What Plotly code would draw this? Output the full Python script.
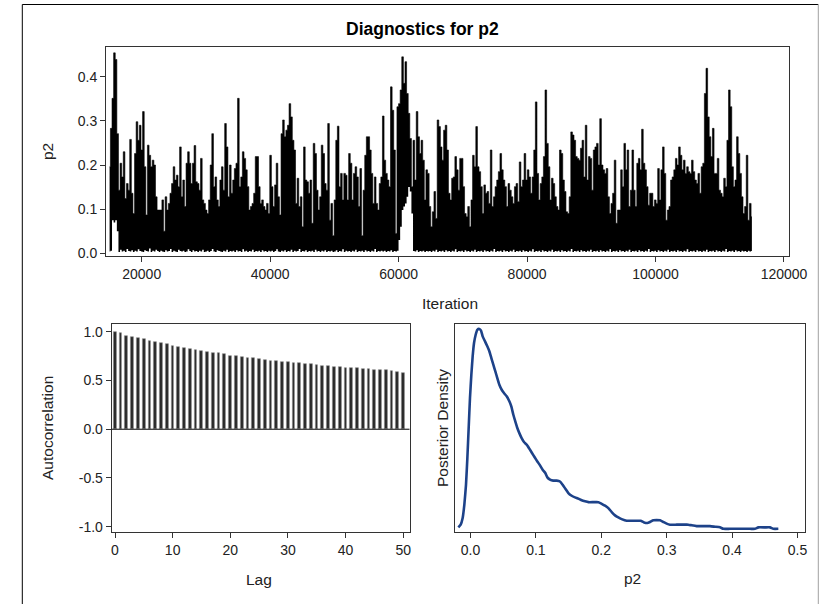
import numpy as np
import plotly.graph_objects as go

# ---------------- data ----------------
# Trace of p2 (thinned: local maxima / minima, in iteration order)
iter_start, iter_end = 15000, 115000
p2_hi = [
    0.196, 0.283, 0.351, 0.454, 0.439, 0.271, 0.143, 0.204, 0.173, 0.230,
    0.124, 0.158, 0.143, 0.258, 0.136, 0.090, 0.226, 0.298, 0.256, 0.290,
    0.234, 0.321, 0.196, 0.087, 0.245, 0.222, 0.196, 0.211, 0.200, 0.128,
    0.098, 0.098, 0.098, 0.121, 0.050, 0.128, 0.098, 0.113, 0.136, 0.158,
    0.196, 0.166, 0.177, 0.151, 0.241, 0.128, 0.166, 0.106, 0.204, 0.230,
    0.204, 0.158, 0.204, 0.244, 0.162, 0.158, 0.143, 0.215, 0.121, 0.113,
    0.098, 0.090, 0.121, 0.200, 0.271, 0.151, 0.173, 0.121, 0.106, 0.166,
    0.196, 0.143, 0.294, 0.241, 0.128, 0.200, 0.136, 0.166, 0.192, 0.204,
    0.351, 0.151, 0.173, 0.230, 0.215, 0.189, 0.151, 0.098, 0.106, 0.113,
    0.136, 0.219, 0.219, 0.151, 0.113, 0.121, 0.106, 0.098, 0.113, 0.090,
    # ~ 40000 - 65000
    0.222, 0.151, 0.106, 0.155, 0.204, 0.128, 0.087, 0.271, 0.302, 0.264,
    0.279, 0.290, 0.339, 0.309, 0.256, 0.234, 0.113, 0.170, 0.106, 0.128,
    0.060, 0.241, 0.166, 0.162, 0.136, 0.166, 0.068, 0.249, 0.226, 0.143,
    0.098, 0.128, 0.245, 0.226, 0.158, 0.143, 0.294, 0.075, 0.113, 0.040,
    0.121, 0.256, 0.288, 0.151, 0.181, 0.121, 0.181, 0.177, 0.121, 0.226,
    0.204, 0.121, 0.181, 0.196, 0.173, 0.106, 0.192, 0.040, 0.143, 0.222,
    0.264, 0.264, 0.234, 0.181, 0.113, 0.173, 0.113, 0.098, 0.158, 0.173,
    0.311, 0.211, 0.181, 0.166, 0.151, 0.377, 0.324, 0.234, 0.045, 0.332,
    0.339, 0.370, 0.445, 0.385, 0.434, 0.362, 0.317, 0.260, 0.151, 0.256,
    0.166, 0.321, 0.264, 0.226, 0.256, 0.211, 0.121, 0.189, 0.181,
    # ~ 65000 - 90000
    0.106, 0.060, 0.094, 0.140, 0.079, 0.302, 0.287, 0.241, 0.211, 0.279,
    0.290, 0.234, 0.136, 0.121, 0.170, 0.173, 0.219, 0.189, 0.143, 0.215,
    0.215, 0.151, 0.090, 0.083, 0.106, 0.060, 0.121, 0.222, 0.196, 0.287,
    0.196, 0.185, 0.151, 0.090, 0.155, 0.136, 0.140, 0.113, 0.234, 0.106,
    0.128, 0.151, 0.166, 0.185, 0.226, 0.189, 0.166, 0.151, 0.106, 0.158,
    0.143, 0.128, 0.113, 0.151, 0.158, 0.117, 0.207, 0.151, 0.166, 0.226,
    0.166, 0.189, 0.173, 0.136, 0.173, 0.234, 0.343, 0.181, 0.121, 0.158,
    0.173, 0.219, 0.370, 0.249, 0.196, 0.121, 0.170, 0.158, 0.128, 0.106,
    0.098, 0.234, 0.226, 0.166, 0.140, 0.094, 0.090, 0.128, 0.275, 0.268,
    0.256, 0.219, 0.215, 0.211, 0.238, 0.256,
    # ~ 90000 - 115000
    0.173, 0.290, 0.166, 0.219, 0.215, 0.143, 0.234, 0.241, 0.249, 0.200,
    0.305, 0.200, 0.189, 0.181, 0.192, 0.128, 0.090, 0.113, 0.136, 0.211,
    0.068, 0.098, 0.098, 0.189, 0.151, 0.249, 0.189, 0.234, 0.106, 0.143,
    0.234, 0.143, 0.106, 0.204, 0.215, 0.189, 0.281, 0.204, 0.189, 0.151,
    0.109, 0.136, 0.136, 0.106, 0.121, 0.113, 0.192, 0.121, 0.189, 0.241,
    0.181, 0.075, 0.098, 0.106, 0.166, 0.173, 0.189, 0.215, 0.200, 0.241,
    0.222, 0.189, 0.211, 0.181, 0.196, 0.185, 0.181, 0.211, 0.185, 0.166,
    0.158, 0.181, 0.136, 0.196, 0.204, 0.362, 0.419, 0.309, 0.264, 0.219,
    0.283, 0.181, 0.181, 0.215, 0.143, 0.136, 0.128, 0.170, 0.151, 0.256,
    0.370, 0.332, 0.196, 0.151, 0.166, 0.264, 0.226, 0.181, 0.128, 0.090,
    0.106, 0.222, 0.075, 0.113, 0.083,
]
p2_lo = [
    0.004, 0.006, 0.075, 0.070, 0.075, 0.050, 0.003, 0.008, 0.004, 0.006,
    0.003, 0.010, 0.005, 0.004, 0.007, 0.003, 0.006, 0.004, 0.009, 0.005,
    0.004, 0.003, 0.007, 0.005, 0.004, 0.011, 0.003, 0.006, 0.004, 0.008,
    0.005, 0.003, 0.006, 0.004, 0.003, 0.007, 0.004, 0.005, 0.010, 0.003,
    0.006, 0.004, 0.003, 0.008, 0.005, 0.004, 0.006, 0.003, 0.004, 0.009,
    0.005, 0.003, 0.007, 0.004, 0.005, 0.003, 0.006, 0.004, 0.008, 0.003,
    0.004, 0.006, 0.003, 0.005, 0.010, 0.004, 0.003, 0.007, 0.005, 0.004,
    0.003, 0.006, 0.004, 0.008, 0.003, 0.005, 0.004, 0.006, 0.003, 0.007,
    0.004, 0.005, 0.003, 0.009, 0.004, 0.006, 0.003, 0.005, 0.004, 0.008,
    0.003, 0.005, 0.004, 0.006, 0.003, 0.007, 0.004, 0.005, 0.003, 0.006,
    # ~ 40000 - 65000
    0.004, 0.006, 0.003, 0.005, 0.009, 0.004, 0.003, 0.006, 0.004, 0.007,
    0.003, 0.005, 0.004, 0.008, 0.003, 0.006, 0.004, 0.005, 0.010, 0.003,
    0.005, 0.004, 0.007, 0.003, 0.005, 0.004, 0.006, 0.003, 0.008, 0.004,
    0.005, 0.003, 0.006, 0.004, 0.007, 0.003, 0.005, 0.004, 0.006, 0.003,
    0.004, 0.007, 0.003, 0.005, 0.004, 0.009, 0.003, 0.006, 0.004, 0.005,
    0.003, 0.006, 0.004, 0.008, 0.003, 0.005, 0.004, 0.006, 0.003, 0.007,
    0.004, 0.005, 0.003, 0.006, 0.004, 0.010, 0.003, 0.005, 0.004, 0.006,
    0.004, 0.006, 0.003, 0.005, 0.004, 0.007, 0.003, 0.005, 0.004, 0.006,
    0.030, 0.060, 0.098, 0.106, 0.113, 0.128, 0.150, 0.140, 0.090, 0.005,
    0.004, 0.007, 0.003, 0.005, 0.004, 0.006, 0.003, 0.005, 0.004,
    # ~ 65000 - 90000
    0.005, 0.003, 0.006, 0.004, 0.008, 0.003, 0.005, 0.004, 0.006, 0.003,
    0.007, 0.004, 0.005, 0.003, 0.006, 0.004, 0.009, 0.003, 0.005, 0.004,
    0.006, 0.003, 0.007, 0.004, 0.005, 0.003, 0.006, 0.004, 0.008, 0.003,
    0.005, 0.004, 0.006, 0.003, 0.007, 0.004, 0.005, 0.003, 0.006, 0.004,
    0.010, 0.003, 0.005, 0.004, 0.006, 0.003, 0.007, 0.004, 0.005, 0.003,
    0.006, 0.004, 0.008, 0.003, 0.005, 0.004, 0.006, 0.003, 0.007, 0.004,
    0.005, 0.003, 0.006, 0.004, 0.009, 0.003, 0.005, 0.004, 0.006, 0.003,
    0.007, 0.004, 0.005, 0.003, 0.006, 0.004, 0.008, 0.003, 0.005, 0.004,
    0.006, 0.003, 0.007, 0.004, 0.005, 0.003, 0.006, 0.004, 0.010, 0.003,
    0.005, 0.004, 0.006, 0.003, 0.007, 0.004,
    # ~ 90000 - 115000
    0.005, 0.003, 0.006, 0.004, 0.008, 0.003, 0.005, 0.004, 0.006, 0.003,
    0.007, 0.004, 0.005, 0.003, 0.006, 0.004, 0.009, 0.003, 0.005, 0.004,
    0.006, 0.003, 0.007, 0.004, 0.005, 0.003, 0.006, 0.004, 0.008, 0.003,
    0.005, 0.004, 0.006, 0.003, 0.007, 0.004, 0.005, 0.003, 0.006, 0.004,
    0.010, 0.003, 0.005, 0.004, 0.006, 0.003, 0.007, 0.004, 0.005, 0.003,
    0.006, 0.004, 0.008, 0.003, 0.005, 0.004, 0.006, 0.003, 0.007, 0.004,
    0.005, 0.003, 0.006, 0.004, 0.009, 0.003, 0.005, 0.004, 0.006, 0.003,
    0.007, 0.004, 0.005, 0.003, 0.006, 0.004, 0.008, 0.003, 0.005, 0.004,
    0.006, 0.003, 0.007, 0.004, 0.005, 0.003, 0.006, 0.004, 0.010, 0.003,
    0.005, 0.004, 0.006, 0.003, 0.007, 0.004, 0.005, 0.003, 0.006, 0.004,
    0.005, 0.003, 0.006, 0.004, 0.005,
]
trace_xticks = [20000, 40000, 60000, 80000, 100000, 120000]
trace_yticks = [0.0, 0.1, 0.2, 0.3, 0.4]

# Autocorrelation by lag
lags = list(range(0, 51))
acf = [1.000, 0.983, 0.959, 0.949, 0.939, 0.922, 0.908, 0.894, 0.884, 0.874,
       0.857, 0.846, 0.833, 0.819, 0.817, 0.805, 0.792, 0.782, 0.778, 0.768,
       0.754, 0.751, 0.737, 0.727, 0.726, 0.717, 0.713, 0.703, 0.700, 0.693,
       0.686, 0.683, 0.676, 0.672, 0.666, 0.662, 0.652, 0.648, 0.642, 0.641,
       0.631, 0.630, 0.627, 0.621, 0.614, 0.611, 0.608, 0.604, 0.597, 0.587,
       0.580]
acf_xticks = [0, 10, 20, 30, 40, 50]
acf_yticks = [-1.0, -0.5, 0.0, 0.5, 1.0]

# Posterior density of p2
dens_x = [-0.0186, -0.0150, -0.0120, -0.0094, -0.0069, -0.0048, -0.0028, -0.0008,
          0.0013, 0.0033, 0.0054, 0.0079, 0.0104, 0.0135, 0.0161, 0.0186, 0.0222,
          0.0257, 0.0288, 0.0319, 0.0349, 0.0380, 0.0410, 0.0441, 0.0477, 0.0512,
          0.0553, 0.0594, 0.0624, 0.0655, 0.0685, 0.0716, 0.0747, 0.0782, 0.0818,
          0.0859, 0.0899, 0.0940, 0.0981, 0.1022, 0.1063, 0.1103, 0.1144, 0.1175,
          0.1216, 0.1266, 0.1317, 0.1368, 0.1409, 0.1450, 0.1496, 0.1547, 0.1598,
          0.1649, 0.1700, 0.1751, 0.1802, 0.1878, 0.1955, 0.2006, 0.2057, 0.2108,
          0.2159, 0.2210, 0.2260, 0.2311, 0.2388, 0.2464, 0.2541, 0.2602, 0.2653,
          0.2704, 0.2745, 0.2796, 0.2847, 0.2898, 0.2948, 0.2999, 0.3050, 0.3152,
          0.3254, 0.3331, 0.3382, 0.3458, 0.3560, 0.3662, 0.3738, 0.3815, 0.3866,
          0.3968, 0.4121, 0.4274, 0.4350, 0.4401, 0.4503, 0.4580, 0.4631, 0.4707]
dens_y = [0.13, 0.26, 0.58, 1.23, 2.19, 3.48, 4.94, 6.39, 7.52, 8.40, 9.05, 9.45,
          9.69, 9.73, 9.65, 9.37, 9.13, 8.89, 8.65, 8.32, 8.00, 7.68, 7.35, 7.03,
          6.79, 6.63, 6.47, 6.23, 5.98, 5.58, 5.26, 4.94, 4.69, 4.45, 4.26, 4.13,
          3.94, 3.73, 3.52, 3.32, 3.13, 2.92, 2.76, 2.55, 2.44, 2.39, 2.39, 2.35,
          2.19, 2.00, 1.79, 1.66, 1.58, 1.52, 1.44, 1.39, 1.35, 1.35, 1.35, 1.27,
          1.18, 1.06, 0.87, 0.71, 0.61, 0.53, 0.45, 0.45, 0.45, 0.45, 0.37, 0.34,
          0.39, 0.47, 0.48, 0.47, 0.39, 0.31, 0.26, 0.26, 0.26, 0.26, 0.23, 0.19,
          0.19, 0.19, 0.16, 0.13, 0.06, 0.06, 0.06, 0.06, 0.06, 0.13, 0.13, 0.13,
          0.06, 0.06]
dens_xticks = [0.0, 0.1, 0.2, 0.3, 0.4, 0.5]

# ---------------- figure ----------------
W, H = 823, 604
FONT = "Liberation Sans, Arial, Helvetica, sans-serif"
TXT = "#222222"
FRAME = "#333333"

def px(v):
    return v / W

def py(v):
    return 1 - v / H

n = len(p2_hi)
iters = np.linspace(iter_start, iter_end, n)

fig = go.Figure()
# lower edge of the trace band (invisible) and upper edge filled down to it
fig.add_trace(go.Scatter(x=iters, y=p2_lo, mode="lines",
                         line=dict(color="black", width=0, shape="hvh"),
                         xaxis="x", yaxis="y", hoverinfo="skip", showlegend=False))
fig.add_trace(go.Scatter(x=iters, y=p2_hi, mode="lines", fill="tonexty", fillcolor="black",
                         line=dict(color="black", width=0.6, shape="hvh"),
                         xaxis="x", yaxis="y", hoverinfo="skip", showlegend=False))
fig.add_trace(go.Bar(x=lags, y=acf, width=0.48, marker=dict(color="#2a2a2a",
                     line=dict(color="#8a8a8a", width=0.6)),
                     xaxis="x2", yaxis="y2", showlegend=False))
fig.add_trace(go.Scatter(x=dens_x, y=dens_y, mode="lines",
                         line=dict(color="#1d4289", width=2.6, shape="spline", smoothing=0.4),
                         xaxis="x3", yaxis="y3", showlegend=False))

axis_common = dict(showline=True, mirror=True, linecolor=FRAME, linewidth=1,
                   ticks="outside", ticklen=5, tickcolor=FRAME, tickwidth=1,
                   showgrid=False, zeroline=False, automargin=False,
                   tickfont=dict(family=FONT, size=14, color=TXT))

fig.update_layout(
    width=W, height=H,
    margin=dict(l=0, r=0, t=0, b=0, pad=0, autoexpand=False),
    paper_bgcolor="white", plot_bgcolor="white",
    bargap=0,
    xaxis=dict(domain=[px(106), px(789)], range=[14440, 120780], anchor="y",
               tickvals=trace_xticks, ticktext=[str(v) for v in trace_xticks], **axis_common),
    yaxis=dict(domain=[py(256), py(47)], range=[-0.0061, 0.4673], anchor="x",
               tickvals=trace_yticks, ticktext=[f"{v:.1f}" for v in trace_yticks], **axis_common),
    xaxis2=dict(domain=[px(111.7), px(409.5)], range=[-0.572, 51.08], anchor="y2",
                tickvals=acf_xticks, ticktext=[str(v) for v in acf_xticks], **axis_common),
    yaxis2=dict(domain=[py(531.7), py(324)], range=[-1.051, 1.079], anchor="x2",
                tickvals=acf_yticks, ticktext=[f"{v:.1f}" for v in acf_yticks], **axis_common),
    xaxis3=dict(domain=[px(455), px(804.5)], range=[-0.0237, 0.5107], anchor="y3",
                tickvals=dens_xticks, ticktext=[f"{v:.1f}" for v in dens_xticks], **axis_common),
    yaxis3=dict(domain=[py(531.7), py(324)], range=[-0.08, 9.97], anchor="x3",
                showline=True, mirror=True, linecolor=FRAME, linewidth=1, automargin=False,
                showgrid=False, zeroline=False, showticklabels=False, ticks=""),
)

# zero reference line in the autocorrelation panel
fig.add_shape(type="line", xref="x2 domain", yref="y2", x0=0, x1=1, y0=0, y1=0,
              line=dict(color="black", width=1))

# outer border of the graph
fig.add_shape(type="line", xref="paper", yref="paper", x0=px(22.3), x1=px(818.3),
              y0=py(4.5), y1=py(4.5), line=dict(color="black", width=1))
fig.add_shape(type="line", xref="paper", yref="paper", x0=px(22.3), x1=px(22.3),
              y0=0, y1=py(4.5), line=dict(color="black", width=1))
fig.add_shape(type="line", xref="paper", yref="paper", x0=px(818.3), x1=px(818.3),
              y0=0, y1=py(4.5), line=dict(color="#a0a0a0", width=1))

def label(text, x, y, size=15.5, angle=0, bold=False):
    fig.add_annotation(text=f"<b>{text}</b>" if bold else text, xref="paper", yref="paper",
                       x=px(x), y=py(y), xanchor="center", yanchor="middle",
                       showarrow=False, textangle=angle,
                       font=dict(family=FONT, size=size, color="black" if bold else TXT))

label("Diagnostics for p2", 423, 29, size=17.5, bold=True)
label("p2", 48, 152, angle=-90)
label("Iteration", 450, 303)
label("Autocorrelation", 47, 428, angle=-90)
label("Lag", 259, 579)
label("Posterior Density", 442, 428, angle=-90)
label("p2", 632, 578)

fig.write_html(
    "out.html",
    config={"displayModeBar": False},
    post_script=(
        "var de=document.documentElement, b=document.body;"
        "de.style.margin='0'; de.style.padding='0'; de.style.overflow='hidden';"
        "b.style.margin='0'; b.style.padding='0'; b.style.overflow='hidden';"
    ),
)
